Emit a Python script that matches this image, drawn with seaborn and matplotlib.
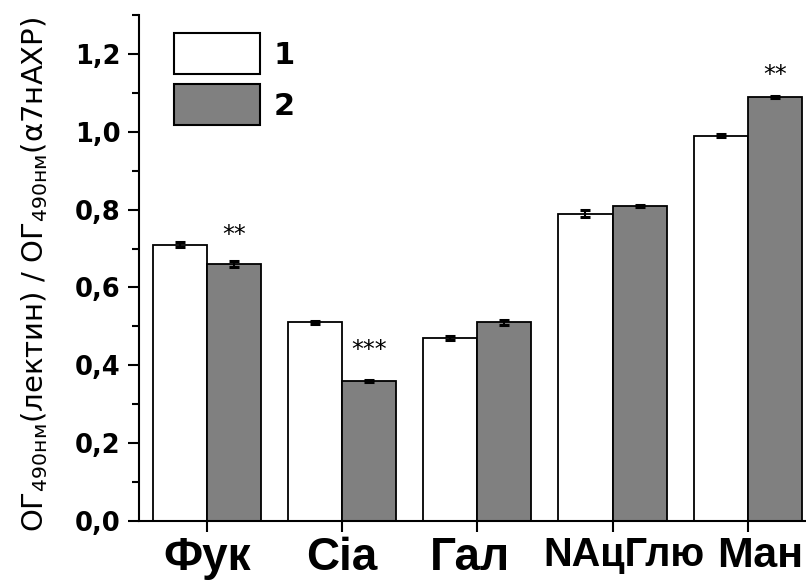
import matplotlib
matplotlib.use("Agg")
import matplotlib.pyplot as plt
import matplotlib.transforms as mtransforms
import seaborn as sns
import pandas as pd
import numpy as np
from matplotlib.ticker import MultipleLocator, FuncFormatter

categories = ["Фук", "Сіа", "Гал", "NAцГлю", "Ман"]
series_names = ["1", "2"]
values_1 = [0.71, 0.51, 0.47, 0.79, 0.99]
values_2 = [0.66, 0.36, 0.51, 0.81, 1.09]
errors_1 = [0.007, 0.004, 0.006, 0.010, 0.004]
errors_2 = [0.008, 0.003, 0.006, 0.003, 0.003]
annotations = ["**", "***", "", "", "**"]
annot_y = [0.735, 0.44, None, None, 1.145]

# layout only: horizontal nudges (px) and sizes of the category labels
label_shift_px = [1, 0, -7, 11, 12]
label_sizes = [33, 33, 33, 28.5, 31]

sns.set_theme(style="ticks")
plt.rcParams["font.family"] = ["DejaVu Sans"]
plt.rcParams["mathtext.default"] = "regular"
for k in ["text.color", "axes.labelcolor", "xtick.color", "ytick.color", "axes.edgecolor"]:
    plt.rcParams[k] = "black"

df = pd.DataFrame({
    "cat": categories * 2,
    "series": [series_names[0]] * len(categories) + [series_names[1]] * len(categories),
    "value": values_1 + values_2,
    "err": errors_1 + errors_2,
})

fig = plt.figure(figsize=(8.06, 5.83), dpi=100)
ax = fig.add_axes([139 / 806, 62 / 583, 667 / 806, 506 / 583])

sns.barplot(data=df, x="cat", y="value", hue="series", order=categories,
            hue_order=series_names, palette=["white", "#808080"],
            edgecolor="black", linewidth=1.3, width=0.8, errorbar=None,
            saturation=1, ax=ax)

for cont, errs in zip(ax.containers, [errors_1, errors_2]):
    xs = [p.get_x() + p.get_width() / 2 for p in cont.patches]
    hs = [p.get_height() for p in cont.patches]
    ax.errorbar(xs, hs, yerr=errs, fmt="none", ecolor="black",
                elinewidth=1.5, capsize=3.5, capthick=2.2, zorder=5)

for i, (txt, yv) in enumerate(zip(annotations, annot_y)):
    if txt:
        p = ax.containers[1].patches[i]
        ax.text(p.get_x() + p.get_width() / 2, yv, txt, ha="center",
                va="center", fontsize=17, color="black")

ax.set_xlim(-0.5, 4.43)
ax.set_ylim(0, 1.3)
ax.yaxis.set_major_locator(MultipleLocator(0.2))
ax.yaxis.set_minor_locator(MultipleLocator(0.1))
ax.yaxis.set_major_formatter(FuncFormatter(lambda v, _: f"{v:.1f}".replace(".", ",")))
ax.tick_params(axis="y", which="major", length=8, width=1.5, pad=5.5,
               direction="out", labelsize=18.5)
ax.tick_params(axis="y", which="minor", length=5, width=1.5, direction="out")
ax.tick_params(axis="x", which="major", length=8, width=1.5, pad=3, direction="out")
for lbl in ax.get_yticklabels():
    lbl.set_fontweight("bold")

for lbl, sz, dx in zip(ax.get_xticklabels(), label_sizes, label_shift_px):
    lbl.set_fontweight("bold")
    lbl.set_fontsize(sz)
    lbl.set_fontfamily("Liberation Sans")
    lbl.set_transform(lbl.get_transform() +
                      mtransforms.ScaledTranslation(dx / 100, 0, fig.dpi_scale_trans))

sns.despine(ax=ax)
ax.spines["left"].set_linewidth(1.5)
ax.spines["bottom"].set_linewidth(1.5)

ax.set_xlabel("")
ax.set_ylabel("ОГ$_{490нм}$(лектин) / ОГ$_{490нм}$(α7нАХР)", fontsize=21)
ax.yaxis.set_label_coords(-0.133, 0.487)

handles, labels = ax.get_legend_handles_labels()
leg = ax.legend(handles, labels, loc="upper left", bbox_to_anchor=(0.0345, 0.988),
                frameon=False, prop={"weight": "bold", "size": 22},
                handlelength=2.8, handleheight=1.68, labelspacing=0.33,
                handletextpad=0.45, borderaxespad=0)
for h in leg.legend_handles:
    h.set_edgecolor("black")
    h.set_linewidth(1.5)

fig.savefig("out.png", dpi=100)
